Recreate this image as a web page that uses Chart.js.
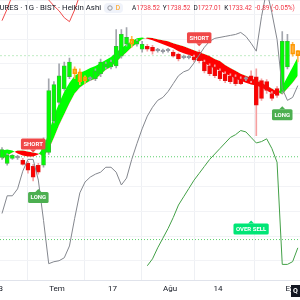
<!DOCTYPE html>
<html>
<head>
<meta charset="utf-8">
<script src="https://cdn.jsdelivr.net/npm/chart.js@4.4.1/dist/chart.umd.min.js"></script>
<style>
  html, body { margin: 0; padding: 0; background: #fff; }
</style>
</head>
<body>
<canvas id="myChart" width="300" height="300"></canvas>
<script>
// Heikin Ashi bars, daily, oldest first
const opens  = [1630, 1624, 1629, 1630, 1627, 1624, 1621, 1622, 1622, 1635, 1667, 1686, 1700, 1712, 1720, 1717, 1712, 1710.5, 1710, 1715,
                1722, 1722, 1723, 1733, 1745, 1750, 1745, 1740, 1743, 1742, 1739.5, 1738.5, 1739.5, 1737, 1735, 1732.5, 1732.5, 1732, 1737, 1727,
                1723, 1722, 1718, 1715, 1713, 1712, 1710, 1710.5, 1713, 1712, 1708, 1707, 1695, 1700, 1697, 1722, 1745, 1738.52];
const closes = [1638, 1632, 1632, 1629.5, 1623, 1617, 1610, 1615, 1648, 1698, 1704, 1713, 1723, 1727, 1715, 1707, 1708, 1709.5, 1718, 1727,
                1725, 1727, 1743, 1755, 1752, 1745, 1748, 1745, 1740, 1738, 1738.5, 1737.5, 1738.5, 1733, 1730, 1731.5, 1731.5, 1729, 1728, 1718,
                1715, 1713, 1710, 1708, 1707, 1705, 1705, 1709.5, 1708, 1683, 1690, 1698, 1690, 1693, 1748, 1748, 1735, 1733.42];
const highs  = [1640, 1634, 1633, 1632, 1629, 1626, 1623, 1624, 1650, 1710, 1707, 1725, 1727, 1731, 1722, 1720, 1713, 1712, 1720, 1730,
                1727, 1729, 1760, 1760, 1762, 1753, 1750, 1748, 1745, 1744, 1741, 1740, 1741, 1739, 1736, 1734, 1734, 1734, 1739, 1729,
                1725, 1724, 1720, 1717, 1715, 1714, 1712, 1712, 1718, 1720, 1710, 1709, 1697, 1702, 1758, 1755, 1747, 1738.52];
const lows   = [1628, 1622, 1628, 1628, 1622, 1614, 1606, 1613, 1620, 1633, 1665, 1684, 1698, 1710, 1710, 1704, 1705, 1708, 1708, 1712,
                1720, 1720, 1721, 1731, 1743, 1742, 1743, 1737, 1738, 1735, 1737, 1736, 1737, 1732, 1728, 1730, 1730, 1727, 1726, 1716,
                1713, 1711, 1708, 1706, 1705, 1703, 1704, 1708, 1706, 1652, 1688, 1695, 1688, 1691, 1695, 1720, 1733, 1727.01];

// ribbon (fast / slow average)
const fastMA = [1637, 1638, 1637, 1634, 1632, 1631, 1631, 1633, 1640, 1655, 1672, 1685, 1697, 1706, 1713, 1716, 1718, 1721, 1723, 1726,
                1729, 1732, 1737, 1741, 1745, 1748, 1751, 1752, 1750.5, 1749, 1747, 1745, 1743, 1741, 1738, 1736, 1734, 1732, 1730, 1726,
                1723, 1720, 1718, 1715, 1713, 1710, 1708, 1706, 1704, 1703, 1701, 1698, 1695, 1694, 1702, 1712, 1722, 1732];
const slowMA = [1628, 1632, 1635, 1637, 1637, 1636, 1635, 1634, 1631, 1638, 1650, 1663, 1674, 1685, 1695, 1701, 1705, 1708, 1710, 1714,
                1719, 1722, 1727, 1732, 1737, 1742, 1746, 1750, 1752, 1751.5, 1750, 1749, 1748, 1746, 1744.5, 1743, 1741, 1739, 1737, 1735,
                1733, 1730, 1728, 1724, 1721, 1718, 1715, 1713, 1711, 1708, 1706, 1703, 1700, 1697, 1694, 1700, 1706, 1713];

// overlaid indicators
const grayLine = [68, 86, 86, 93, 111, 123, 123, 102, 61, 17, 19, 20, 23, 35, 63, 89, 100, 105, 108, 110,
                  115, 115, 110, 97, 104, 123, 139, 154, 167, 176, 183, 186, 192, 200, 208, 212, 214, 221, 229, 237,
                  243, 246, 247, 248, 249, 250, 252, 248, 241, 233, 268, 295, 272, 245, 195, 183, 186, 198];
const redLine = [264, 276, 290, 310, 320, 322, 318, 305, 292, 285, 279, 274, 267, 263, 275, 290, 310];
const stochLine = [null, null, null, null, null, null, null, null, null, null, null, null, null, null, null, null, null, null, null, null,
                   null, null, null, null, null, null, null, null, 1, 6, 14, 21, 28, 36, 45, 51, 57, 63, 68, 73,
                   78, 82, 86, 90, 94, 96, 99, 98, 94, 90, 91, 93, 86, 76, 2, 2, 4, 14];
const stochLevels = [80, 20];

const tickPos  = [-0.65, 10.6, 21.3, 32.4, 41.6, 55.6];
const tickText = ['13', 'Tem', '17', 'Ağu', '14', 'Eyl'];

const signalBar   = [6, 7, 38, 54, 48];
const signalPrice = [1635, 1598, 1743, 1682, 1566];
const signalText  = ['SHORT', 'LONG', 'SHORT', 'LONG', 'OVER SELL'];

const ohlcKeys = ['A', 'Y', 'D', 'K'];
const lastChange = '-0.89 (-0.05%)';

const xMin = -0.385, xMax = 57.42;
const family = 'Roboto, "Liberation Sans", sans-serif';
const idx = opens.map((_, i) => i);

// bar colouring: flat, up, pullback inside a rising ribbon, down
const tone = idx.map(i => {
    if (Math.abs(closes[i] - opens[i]) < 1.5) return 'flat';
    if (closes[i] > opens[i]) return 'up';
    return fastMA[i] > slowMA[i] ? 'pull' : 'down';
});
const bodyFill = { up: '#00ff00', down: '#ff0000', pull: 'rgba(255,152,0,0.12)', flat: '#9598a1' };
const bodyLine = { up: '#2cc52c', down: '#e31212', pull: '#ff9800', flat: '#9598a1' };
const wickCol  = { up: '#a3a6ad', down: '#f5a0a0', pull: '#ffb74d', flat: '#a3a6ad' };

const pts = arr => arr.map((v, i) => ({ x: i, y: v }));
const level = v => [{ x: xMin, y: v }, { x: xMax, y: v }];

function tag(ctx, x, tipY, text, fill, above) {
    ctx.font = 'bold 6px ' + family;
    const w = ctx.measureText(text).width + 5, h = 11;
    const top = above ? tipY - 3 - h : tipY + 3;
    ctx.fillStyle = fill;
    ctx.beginPath();
    ctx.roundRect(x - w / 2, top, w, h, 1.5);
    ctx.fill();
    ctx.beginPath();
    if (above) { ctx.moveTo(x - 3, top + h); ctx.lineTo(x + 3, top + h); }
    else { ctx.moveTo(x - 3, top); ctx.lineTo(x + 3, top); }
    ctx.lineTo(x, tipY);
    ctx.fill();
    ctx.fillStyle = '#ffffff';
    ctx.textAlign = 'center';
    ctx.textBaseline = 'middle';
    ctx.fillText(text, x, top + h / 2 + 0.5);
}

const overlay = {
    id: 'overlay',
    afterDatasetsDraw(chart) {
        const ctx = chart.ctx, xs = chart.scales.x, ys = chart.scales.y;
        ctx.save();
        signalText.forEach((t, k) => {
            const x = xs.getPixelForValue(signalBar[k]);
            const y = ys.getPixelForValue(signalPrice[k]);
            if (t === 'SHORT') tag(ctx, x, y, t, '#f04848', true);
            else if (t === 'LONG') tag(ctx, x, y, t, '#4caf50', false);
            else tag(ctx, x, y, t, '#00e676', false);
        });
        ctx.restore();
    },
    afterDraw(chart) {
        const ctx = chart.ctx;
        const last = opens.length - 1;
        const lastBar = [opens[last], highs[last], lows[last], closes[last]];
        ctx.save();
        ctx.textBaseline = 'middle';
        ctx.font = '7.8px ' + family;
        ctx.fillStyle = '#131722';
        ctx.textAlign = 'left';
        ctx.fillText('URES · 1G · BIST · Heikin Ashi', -0.5, 8);

        ctx.fillStyle = '#f0f3fa';
        ctx.beginPath();
        ctx.roundRect(104, 3, 19, 10, 4);
        ctx.fill();
        ctx.strokeStyle = '#9598a1';
        ctx.lineWidth = 1;
        ctx.beginPath();
        ctx.arc(110, 8, 2.2, 0, Math.PI * 2);
        ctx.stroke();
        ctx.fillStyle = '#ff9800';
        ctx.textAlign = 'center';
        ctx.font = '6.5px ' + family;
        ctx.fillText('D', 118, 8.5);

        ctx.textAlign = 'left';
        let x = 132;
        ohlcKeys.forEach((k, j) => {
            ctx.fillStyle = '#131722';
            ctx.fillText(k, x, 8);
            x += ctx.measureText(k).width;
            const v = lastBar[j].toFixed(2);
            ctx.fillStyle = '#f23645';
            ctx.fillText(v, x, 8);
            x += ctx.measureText(v).width + 3;
        });
        ctx.fillText(lastChange, x, 8);

        ctx.fillStyle = '#131722';
        ctx.fillRect(291, 285, 9, 12);
        ctx.fillStyle = '#ffffff';
        ctx.font = 'bold 7px ' + family;
        ctx.fillText('Q', 293, 291);
        ctx.restore();
    }
};

const chart = new Chart(document.getElementById('myChart').getContext('2d'), {
    type: 'bar',
    data: {
        datasets: [
            { type: 'line', data: pts(grayLine), yAxisID: 'g', borderColor: '#84878e', borderWidth: 1, pointRadius: 0, order: 0 },
            { type: 'line', data: pts(stochLine), yAxisID: 'osc', borderColor: '#43a047', borderWidth: 1, pointRadius: 0, order: 0 },
            { type: 'line', data: pts(redLine), yAxisID: 'g', borderColor: '#ef4b4b', borderWidth: 1, pointRadius: 0, order: 0 },
            {
                data: idx.map(i => ({ x: i, y: [opens[i], closes[i]] })), yAxisID: 'y',
                backgroundColor: tone.map(t => bodyFill[t]), borderColor: tone.map(t => bodyLine[t]),
                borderWidth: 1, borderSkipped: false, barThickness: 4, minBarLength: 1.5, grouped: false, order: 1
            },
            {
                data: idx.map(i => ({ x: i, y: [lows[i], highs[i]] })), yAxisID: 'y',
                backgroundColor: tone.map(t => wickCol[t]), borderWidth: 0, barThickness: 1, grouped: false, order: 2
            },
            {
                type: 'line', data: pts(fastMA), yAxisID: 'y', borderColor: 'rgba(0,0,0,0)', borderWidth: 1, pointRadius: 0,
                fill: { target: '+1', above: '#00ff00', below: '#ff0000' }, order: 3
            },
            { type: 'line', data: pts(slowMA), yAxisID: 'y', borderColor: 'rgba(0,0,0,0)', borderWidth: 1, pointRadius: 0, order: 3 },
            { type: 'line', data: level(closes[closes.length - 1]), yAxisID: 'y', borderColor: 'rgba(76,200,90,0.35)', borderWidth: 1, borderDash: [2, 2], pointRadius: 0, order: 4 },
            { type: 'line', data: level(stochLevels[0]), yAxisID: 'osc', borderColor: '#5ccf6c', borderWidth: 1, borderDash: [1, 2], pointRadius: 0, order: 4 },
            { type: 'line', data: level(stochLevels[1]), yAxisID: 'osc', borderColor: '#5ccf6c', borderWidth: 1, borderDash: [1, 2], pointRadius: 0, order: 4 }
        ]
    },
    options: {
        responsive: false,
        animation: false,
        layout: { padding: { bottom: 2 } },
        plugins: { legend: { display: false }, tooltip: { enabled: false } },
        scales: {
            x: {
                type: 'linear', min: xMin, max: xMax, offset: false,
                afterBuildTicks: ax => { ax.ticks = tickPos.map(v => ({ value: v })); },
                afterFit: ax => { ax.paddingLeft = 0; ax.paddingRight = 0; },
                ticks: { callback: (v, i) => tickText[i], autoSkip: false, maxRotation: 0, padding: 4, color: '#131722', font: { size: 8, family } },
                grid: { color: '#eef0f4', drawTicks: false },
                border: { color: '#e0e3eb' }
            },
            y: {
                min: 1505, max: 1790,
                ticks: { display: false, stepSize: 25 },
                grid: { color: '#f2f3f6', drawTicks: false },
                border: { display: false }
            },
            osc: { display: false, min: -9.6, max: 193.6 },
            g: { display: false, min: 0, max: 285 }
        }
    },
    plugins: [overlay]
});
</script>
</body>
</html>
